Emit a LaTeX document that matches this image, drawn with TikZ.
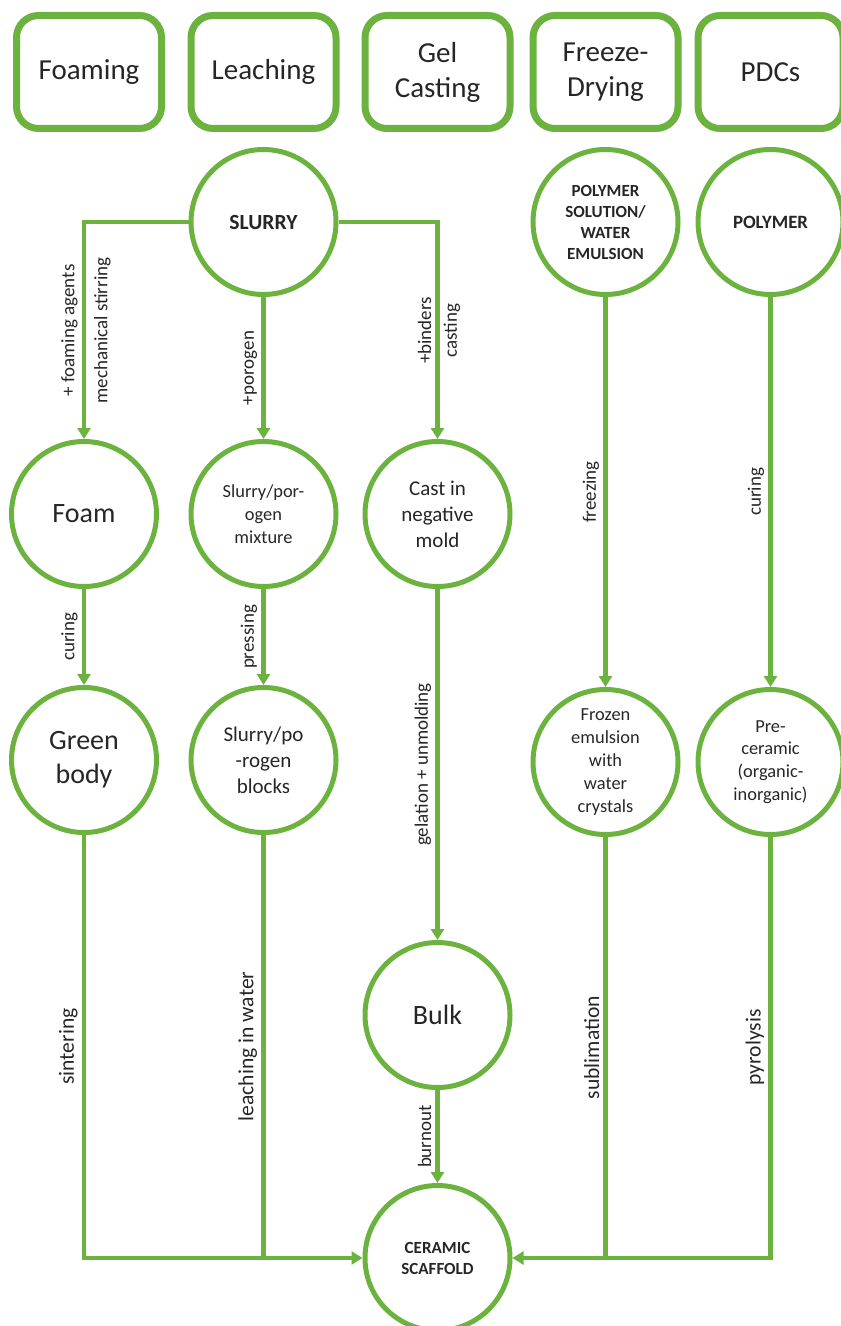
\documentclass[tikz,border=0pt]{standalone}
\usepackage{fontspec}
\setmainfont{Carlito}
\usepackage{tikz}
\usetikzlibrary{positioning, arrows.meta}
\definecolor{leaf}{RGB}{108,178,62}

\begin{document}
\begin{tikzpicture}[on grid]
  \tikzset{method/.style={draw=leaf, line width=3.5pt, rounded corners=11pt,
      minimum width=72.5pt, minimum height=56.5pt, align=center,
      text=black!85, font=\fontsize{14.5}{17.5}\selectfont}}
  \tikzset{stage/.style={circle, draw=leaf, line width=2.5pt, minimum size=72.5pt,
      inner sep=0pt, align=center, text=black!85}}
  \tikzset{txtbig/.style={font=\fontsize{14}{17}\selectfont},
      txtmid/.style={font=\fontsize{10.5}{13}\selectfont},
      txtsmall/.style={font=\fontsize{9.2}{11.4}\selectfont},
      txtcaps/.style={font=\bfseries\fontsize{8.5}{10.5}\selectfont}}
  \tikzset{flow/.style={draw=leaf, line width=2.3pt, -{Triangle[length=5.5pt, width=6.5pt]}},
      link/.style={draw=leaf, line width=2.3pt}}
  \tikzset{lbl/.style={rotate=90, inner sep=2pt, text=black!85, font=\fontsize{9.5}{11}\selectfont},
      lblbig/.style={lbl, font=\fontsize{10.8}{13}\selectfont}}

  \useasboundingbox (0,0) rectangle (420pt,-663pt);

  \node[method] (foaming) at (44.5pt,-36pt) {Foaming};
  \node[method, right=87.25pt of foaming] (leaching) {Leaching};
  \node[method, right=87pt of leaching] (gel) {Gel\\Casting};
  \node[method, right=84pt of gel] (freeze) {Freeze-\\Drying};
  \node[method, right=82.5pt of freeze] (pdc) {PDCs};

  \node[stage, txtcaps, font=\bfseries\fontsize{10.8}{13}\selectfont, below=75pt of leaching] (slurry) {SLURRY};
  \node[stage, txtcaps, below=75pt of freeze] (polysol) {POLYMER\\SOLUTION/\\WATER\\EMULSION};
  \node[stage, txtcaps, font=\bfseries\fontsize{9.4}{11}\selectfont, below=75pt of pdc] (polymer) {POLYMER};

  \node[stage, txtbig, below=221pt of foaming, xshift=-2.5pt] (foam) {Foam};
  \node[stage, txtsmall, below=146pt of slurry] (mixture) {Slurry/por-\\ogen\\mixture};
  \node[stage, txtmid, below=221pt of gel] (cast) {Cast in\\negative\\mold};

  \node[stage, txtbig, below=123pt of foam] (green) {Green\\body};
  \node[stage, txtmid, below=123pt of mixture] (blocks) {Slurry/po\\-rogen\\blocks};
  \node[stage, txtsmall, below=270pt of polysol] (frozen) {Frozen\\emulsion\\with\\water\\crystals};
  \node[stage, txtsmall, below=270pt of polymer] (precer) {Pre-\\ceramic\\(organic-\\inorganic)};

  \node[stage, txtbig, below=250.5pt of cast] (bulk) {Bulk};
  \node[stage, txtcaps, below=121.5pt of bulk] (ceramic) {CERAMIC\\SCAFFOLD};

  \draw[flow] (slurry) -| (foam)
    node[lbl, pos=0.75, above] {+ foaming agents}
    node[lbl, pos=0.75, below, inner sep=4pt] {mechanical stirring};
  \draw[flow] (slurry) -- (mixture) node[lbl, midway, above] {+porogen};
  \draw[flow] (slurry) -| (cast)
    node[lbl, pos=0.75, above] {+binders}
    node[lbl, pos=0.75, below] {casting};
  \draw[flow] (foam) -- (green) node[lbl, midway, above] {curing};
  \draw[flow] (mixture) -- (blocks) node[lbl, midway, above] {pressing};
  \draw[flow] (cast) -- (bulk) node[lbl, midway, above] {gelation + unmolding};
  \draw[flow] (bulk) -- (ceramic) node[lbl, midway, above] {burnout};
  \draw[flow] (polysol) -- (frozen) node[lbl, midway, above] {freezing};
  \draw[flow] (polymer) -- (precer) node[lbl, midway, above] {curing};

  \draw[flow] (green) |- (ceramic) node[lblbig, pos=0.25, above] {sintering};
  \draw[link] (blocks) -- (blocks |- ceramic) node[lblbig, midway, above] {leaching in water};
  \draw[flow] (precer) |- (ceramic) node[lblbig, pos=0.25, above] {pyrolysis};
  \draw[link] (frozen) -- (frozen |- ceramic) node[lblbig, midway, above] {sublimation};
\end{tikzpicture}
\end{document}
